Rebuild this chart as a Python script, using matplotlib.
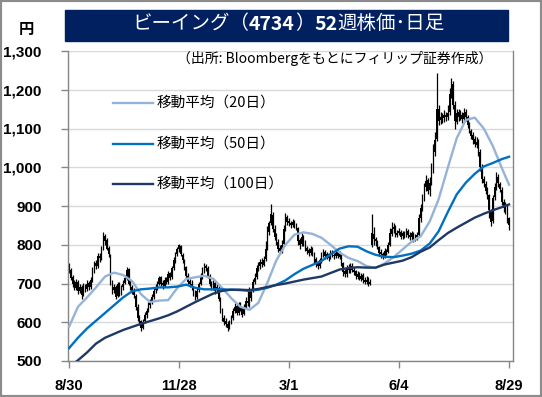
import numpy as np
import matplotlib
matplotlib.use('Agg')
import matplotlib.pyplot as plt
from matplotlib.patches import Rectangle

# daily candles, 8/30 -> 8/29 (245 trading days)
opens = [
    745, 735, 718, 700, 688, 705, 680, 692, 672, 697,
    686, 702, 690, 712, 733, 752, 745, 772, 765, 792,
    822, 812, 792, 770, 702, 682, 690, 668, 698, 677,
    690, 702, 712, 738, 702, 690, 682, 668, 640, 612,
    602, 586, 602, 618, 632, 644, 652, 664, 682, 688,
    700, 716, 702, 694, 712, 704, 726, 716, 740, 758,
    776, 788, 798, 774, 758, 742, 720, 706, 700, 690,
    676, 665, 682, 700, 718, 734, 746, 740, 720, 702,
    690, 702, 682, 688, 658, 630, 612, 602, 596, 586,
    600, 612, 628, 642, 624, 646, 636, 622, 638, 656,
    648, 662, 682, 704, 716, 738, 746, 756, 748, 762,
    792, 832, 856, 878, 840, 822, 808, 792, 786, 802,
    842, 872, 862, 856, 852, 858, 850, 842, 812, 802,
    818, 806, 792, 786, 780, 790, 776, 762, 752, 746,
    760, 774, 782, 770, 776, 766, 782, 774, 770, 782,
    768, 774, 752, 732, 724, 742, 734, 746, 736, 732,
    718, 726, 712, 722, 708, 704, 712, 700, 800, 828,
    814, 808, 794, 782, 776, 770, 786, 782, 800, 828,
    840, 846, 826, 830, 834, 822, 830, 826, 836, 826,
    820, 830, 814, 820, 826, 868, 896, 918, 950, 966,
    942, 962, 1002, 1040, 1072, 1150, 1122, 1132, 1126, 1136,
    1130, 1142, 1192, 1214, 1160, 1118, 1142, 1128, 1136, 1124,
    1142, 1130, 1112, 1094, 1082, 1072, 1058, 1066, 1040, 1000,
    970, 958, 942, 928, 888, 862, 922, 948, 976, 958,
    942, 910, 894, 902, 868,
]
highs = [
    752, 740, 722, 708, 712, 708, 698, 695, 702, 700,
    708, 706, 718, 742, 758, 760, 778, 780, 798, 832,
    828, 818, 798, 776, 710, 698, 695, 705, 704, 696,
    708, 722, 742, 740, 708, 696, 688, 672, 648, 618,
    606, 608, 626, 638, 652, 660, 672, 688, 698, 706,
    720, 720, 708, 716, 718, 732, 730, 746, 768, 782,
    795, 802, 800, 780, 764, 746, 726, 712, 708, 694,
    682, 688, 705, 726, 742, 752, 750, 744, 724, 706,
    710, 706, 698, 694, 664, 636, 618, 610, 602, 606,
    618, 636, 650, 646, 652, 652, 640, 646, 664, 680,
    690, 686, 712, 728, 748, 756, 762, 766, 770, 810,
    848, 862, 905, 884, 852, 830, 815, 800, 812, 850,
    882, 878, 868, 862, 866, 864, 856, 846, 818, 830,
    826, 812, 798, 792, 798, 794, 782, 768, 758, 766,
    782, 788, 786, 782, 780, 786, 786, 780, 788, 786,
    784, 778, 756, 738, 748, 750, 752, 752, 742, 736,
    732, 730, 728, 726, 716, 720, 716, 712, 880, 845,
    820, 812, 798, 790, 782, 792, 790, 808, 842, 858,
    856, 850, 838, 842, 838, 836, 836, 842, 840, 832,
    836, 834, 828, 832, 880, 905, 930, 960, 980, 972,
    975, 1010, 1060, 1090, 1243, 1160, 1142, 1140, 1148, 1142,
    1160, 1205, 1230, 1222, 1170, 1150, 1150, 1148, 1142, 1152,
    1150, 1136, 1118, 1100, 1090, 1080, 1078, 1072, 1048, 1008,
    978, 964, 948, 932, 892, 928, 960, 988, 982, 962,
    948, 918, 910, 906, 872,
]
lows = [
    728, 710, 692, 682, 684, 672, 675, 660, 668, 678,
    680, 682, 686, 705, 728, 738, 740, 755, 760, 786,
    800, 786, 768, 695, 672, 675, 660, 664, 668, 670,
    684, 698, 708, 695, 682, 672, 662, 632, 602, 592,
    578, 582, 598, 612, 626, 638, 648, 660, 676, 684,
    696, 694, 686, 690, 698, 700, 708, 712, 735, 752,
    770, 782, 770, 752, 735, 715, 698, 692, 682, 668,
    658, 660, 678, 696, 712, 728, 732, 715, 694, 684,
    684, 674, 676, 655, 624, 602, 594, 588, 578, 582,
    596, 606, 624, 618, 620, 630, 614, 618, 634, 642,
    640, 656, 678, 698, 712, 732, 738, 742, 744, 758,
    786, 826, 850, 834, 812, 800, 782, 776, 780, 798,
    836, 852, 848, 842, 846, 844, 838, 800, 788, 796,
    798, 784, 776, 772, 774, 770, 754, 742, 738, 740,
    754, 768, 764, 762, 758, 762, 768, 762, 765, 765,
    762, 744, 720, 716, 718, 728, 728, 730, 722, 712,
    712, 708, 706, 702, 700, 698, 694, 696, 795, 800,
    796, 790, 772, 766, 762, 766, 774, 778, 796, 822,
    830, 820, 820, 824, 815, 816, 818, 820, 818, 812,
    812, 808, 810, 812, 822, 860, 888, 912, 940, 930,
    925, 955, 985, 1030, 1068, 1108, 1112, 1115, 1118, 1120,
    1122, 1135, 1180, 1150, 1100, 1112, 1120, 1122, 1115, 1118,
    1120, 1102, 1088, 1072, 1060, 1052, 1050, 1030, 990, 960,
    948, 932, 918, 870, 848, 855, 915, 942, 950, 935,
    902, 885, 880, 855, 838,
]
closes = [
    735, 715, 700, 690, 705, 680, 690, 670, 695, 685,
    700, 690, 710, 735, 750, 745, 770, 765, 790, 820,
    810, 790, 775, 700, 680, 690, 665, 700, 675, 690,
    700, 715, 735, 700, 690, 680, 670, 640, 610, 600,
    585, 600, 620, 630, 645, 650, 665, 680, 690, 700,
    715, 700, 695, 710, 705, 725, 715, 740, 760, 775,
    790, 800, 775, 760, 740, 720, 705, 700, 690, 675,
    665, 680, 700, 720, 735, 745, 740, 720, 700, 690,
    700, 680, 690, 660, 630, 610, 600, 595, 585, 600,
    610, 630, 640, 625, 645, 635, 620, 640, 655, 650,
    660, 680, 705, 715, 740, 745, 755, 750, 760, 790,
    830, 855, 880, 840, 820, 810, 790, 785, 800, 840,
    870, 860, 855, 850, 860, 850, 845, 810, 800, 820,
    805, 790, 785, 780, 790, 775, 760, 750, 745, 760,
    775, 780, 770, 775, 765, 780, 775, 770, 780, 770,
    775, 750, 730, 725, 740, 735, 745, 735, 730, 720,
    725, 715, 720, 710, 705, 710, 700, 705, 830, 815,
    810, 795, 780, 775, 770, 785, 780, 800, 830, 840,
    845, 825, 830, 835, 820, 830, 825, 835, 825, 820,
    830, 815, 820, 825, 870, 895, 920, 950, 965, 940,
    960, 1000, 1040, 1070, 1150, 1120, 1130, 1125, 1135, 1130,
    1140, 1190, 1215, 1160, 1120, 1140, 1130, 1135, 1125, 1140,
    1130, 1110, 1095, 1080, 1070, 1060, 1065, 1040, 1000, 970,
    960, 940, 930, 890, 860, 920, 950, 975, 960, 945,
    910, 895, 900, 870, 850,
]

ma_idx = list(range(0, 241, 5)) + [244]
ma20 = [588, 640, 664, 690, 718, 728, 722, 706, 672, 652,
        656, 657, 688, 712, 716, 720, 712, 688, 662, 640,
        632, 650, 702, 760, 800, 826, 832, 828, 818, 800,
        780, 766, 758, 745, 740, 752, 768, 788, 808, 822,
        860, 918, 998, 1075, 1122, 1128, 1100, 1055, 998, 955]
ma50 = [533, 560, 584, 604, 624, 644, 664, 680, 685, 687,
        690, 690, 692, 697, 689, 685, 685, 685, 684, 683,
        681, 684, 689, 697, 708, 724, 738, 748, 758, 775,
        790, 796, 795, 783, 774, 769, 768, 772, 777, 785,
        803, 835, 884, 930, 960, 983, 1002, 1011, 1021, 1027]
ma100 = [484, 502, 522, 545, 560, 570, 580, 588, 596, 603,
         610, 618, 628, 640, 652, 663, 674, 681, 684, 684,
         683, 686, 691, 696, 700, 705, 710, 714, 718, 727,
         736, 740, 742, 741, 741, 749, 754, 759, 768, 782,
         793, 812, 830, 844, 857, 870, 880, 889, 897, 904]

tick_pos = [0, 61, 122, 183, 244]
tick_labels = ['8/30', '11/28', '3/1', '6/4', '8/29']
y_ticks = [500, 600, 700, 800, 900, 1000, 1100, 1200, 1300]

JP = ['Noto Sans CJK JP', 'DejaVu Sans']
NUM = ['Liberation Sans', 'DejaVu Sans']

c20, c50, c100 = '#95B3D7', '#0070C0', '#1F3864'

fig = plt.figure(figsize=(5.42, 3.97), dpi=100)
ax = fig.add_axes([68 / 542, 1 - 361 / 397, 445 / 542, 310 / 397])

idx = np.arange(len(closes))
o = np.array(opens)
c = np.array(closes)
ax.vlines(idx, lows, highs, color='black', lw=0.9, zorder=2)
ax.bar(idx, np.maximum(np.abs(c - o), 1), bottom=np.minimum(o, c),
       width=0.8, color='black', zorder=2)

ax.plot(ma_idx, ma20, color=c20, lw=1.7, zorder=3)
ax.plot(ma_idx, ma50, color=c50, lw=1.7, zorder=3)
ax.plot(ma_idx, ma100, color=c100, lw=1.7, zorder=3)

ax.set_xlim(-0.55, 246.2)
ax.set_ylim(500, 1300)
ax.set_yticks(y_ticks)
ax.set_yticklabels([f'{v:,}' for v in y_ticks], fontfamily=NUM,
                   fontweight='bold', fontsize=11)
ax.set_xticks(tick_pos)
ax.set_xticklabels(tick_labels, fontfamily=NUM, fontweight='bold', fontsize=10.5)
ax.tick_params(axis='y', length=5, width=1, color='#868686', pad=14)
ax.tick_params(axis='x', length=5, width=1, color='#868686', pad=8)
ax.grid(axis='y', color='#D9D9D9', lw=1, zorder=0)
ax.set_axisbelow(True)
for side in ['left', 'bottom', 'right']:
    ax.spines[side].set_color('#868686')
    ax.spines[side].set_linewidth(1)
ax.spines['top'].set_visible(False)

# legend rows
for lbl, col, yy in [('移動平均（20日）', c20, 103), ('移動平均（50日）', c50, 144),
                     ('移動平均（100日）', c100, 184)]:
    ya = (361 - yy) / 310
    ax.plot([(113 - 68) / 445, (153 - 68) / 445], [ya, ya], color=col, lw=1.7,
            transform=ax.transAxes, zorder=4)
    ax.text((157 - 68) / 445, ya, lbl, transform=ax.transAxes, fontfamily=JP,
            fontsize=10.5, va='center', ha='left', zorder=4)

ax.text((492 - 68) / 445, (361 - 58) / 310, '（出所: Bloombergをもとにフィリップ証券作成）',
        transform=ax.transAxes, fontfamily=JP, fontsize=10, ha='right', va='center')

# title banner, digits in bold
fig.patches.append(Rectangle((65 / 542, 1 - 41 / 397), 443 / 542, 31 / 397,
                             transform=fig.transFigure, color='#002060', zorder=-5))
parts = [('ビーイング（', 'normal'), ('4734', 'bold'), ('）', 'normal'),
         ('52', 'bold'), ('週株価･日足', 'normal')]
prev = fig.text(132 / 542, 1 - 34 / 397, parts[0][0], fontfamily=JP, fontsize=14,
                color='white', ha='left', va='bottom')
for txt, wt in parts[1:]:
    prev = ax.annotate(txt, xy=(1, 0), xycoords=prev, ha='left', va='bottom',
                       fontfamily=JP, fontsize=14, fontweight=wt, color='white',
                       annotation_clip=False, zorder=10)
fig.text(26 / 542, 1 - 29 / 397, '円', fontfamily=JP, fontsize=11,
         fontweight='bold', ha='center', va='center')

# outer frame
fig.patches.append(Rectangle((0, 0), 1, 1, transform=fig.transFigure, fill=False,
                             edgecolor='#8C8C8C', lw=3))

fig.savefig('out.png', dpi=100)
